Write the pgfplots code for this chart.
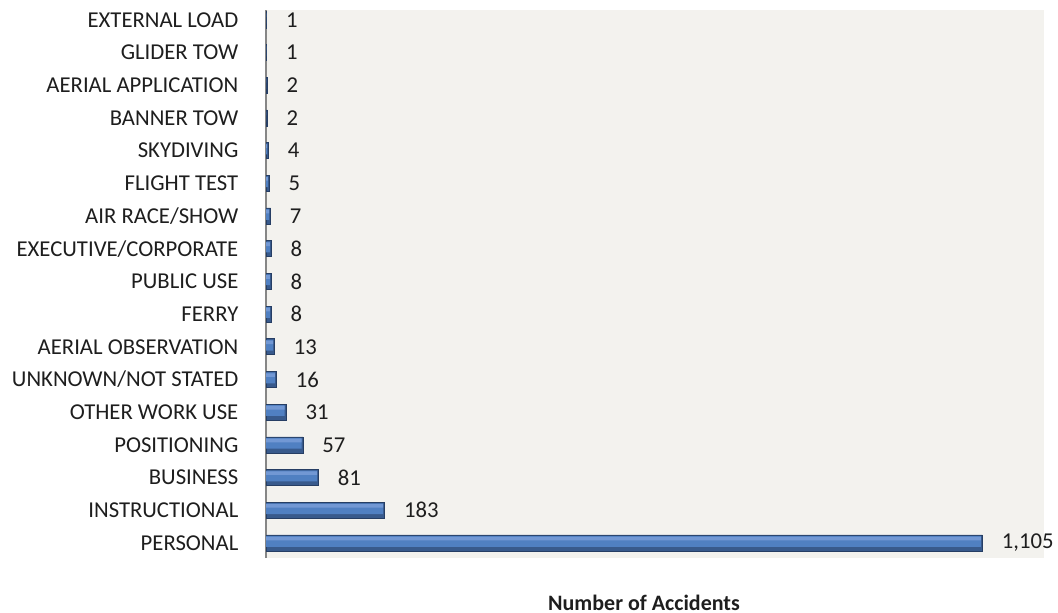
\documentclass[border=0pt]{standalone}
\usepackage{pgfplots}
\usepackage{pgfplotstable}
\pgfplotsset{compat=1.18}
\usepackage{fontspec}
\setmainfont{Carlito}
\definecolor{bgc}{RGB}{243,242,238}
\definecolor{axc}{RGB}{134,134,134}
\definecolor{txt}{RGB}{30,30,30}
\definecolor{bedge}{RGB}{38,62,100}
\definecolor{bbase}{RGB}{56,90,140}
\definecolor{bmid}{RGB}{80,128,194}
\definecolor{blight}{RGB}{114,152,212}
\pgfplotstableread{
v y
1105 0
183 1
81 2
57 3
31 4
16 5
13 6
8 7
8 8
8 9
7 10
5 11
4 12
2 13
2 14
1 15
1 16
}\datatab
\begin{document}
\begin{tikzpicture}
\path[use as bounding box] (0pt,0pt) rectangle (529pt,-306.5pt);
\begin{axis}[
  at={(133pt,-279pt)}, anchor=south west,
  scale only axis, width=389pt, height=274pt,
  xmin=0, xmax=1200, ymin=-0.46, ymax=16.3,
  axis x line=none, axis y line=left,
  axis line style={-, draw=axc, line width=0.6pt},
  axis background/.style={fill=bgc},
  xtick=\empty,
  ytick={0,...,16},
  yticklabels={PERSONAL,INSTRUCTIONAL,BUSINESS,POSITIONING,OTHER WORK USE,UNKNOWN/NOT STATED,AERIAL OBSERVATION,FERRY,PUBLIC USE,EXECUTIVE/CORPORATE,AIR RACE/SHOW,FLIGHT TEST,SKYDIVING,BANNER TOW,AERIAL APPLICATION,GLIDER TOW,EXTERNAL LOAD},
  ytick style={draw=none},
  yticklabel style={anchor=east, inner sep=0pt, xshift=-11.5pt, font=\fontsize{11.35}{13}\selectfont, text=txt},
  clip=false,
  /pgf/number format/assume math mode=true,
]
\addplot[xbar, bar width=8pt, bar shift=0pt, draw=bedge, line width=0.3pt, fill=bbase] table[x=v,y=y] {\datatab};
\addplot[xbar, bar width=5.4pt, bar shift=0.8pt, draw=none, fill=bmid] table[x expr={max(\thisrow{v}-2.2,0)},y=y] {\datatab};
\addplot[xbar, bar width=1.8pt, bar shift=2.2pt, draw=none, fill=blight] table[x expr={max(\thisrow{v}-2.2,0)},y=y] {\datatab};
\addplot[xbar, bar width=8pt, bar shift=0pt, draw=none, fill=none,
  point meta=explicit,
  nodes near coords={\pgfmathprintnumber[1000 sep={,}]{\pgfplotspointmeta}},
  nodes near coords style={anchor=west, inner sep=0pt, xshift=9.5pt, font=\fontsize{11.35}{13}\selectfont, text=txt}]
  table[x=v,y=y,meta=v] {\datatab};
\end{axis}
\node[anchor=base, font=\bfseries\fontsize{11}{13}\selectfont, text=txt, inner sep=0pt] at (322pt,-305pt) {Number of Accidents};
\end{tikzpicture}
\end{document}
